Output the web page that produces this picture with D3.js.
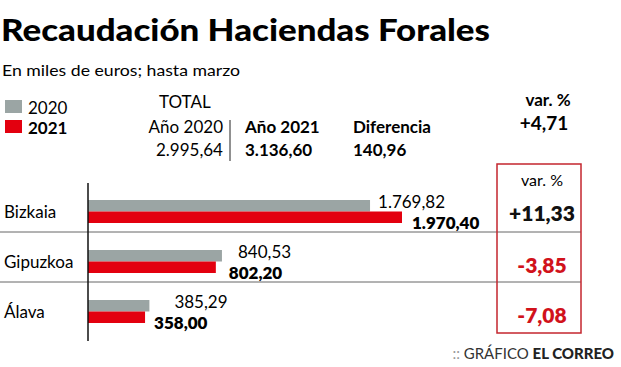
<!DOCTYPE html>
<html>
<head>
<meta charset="utf-8">
<script src="https://cdn.jsdelivr.net/npm/d3@7"></script>
<style>
  body { margin: 0; background: #fff; }
  svg text { font-family: "Lato", "Open Sans", sans-serif; }
</style>
</head>
<body>
<div id="chart"></div>
<script>
// datos (miles de euros, hasta marzo)
const regions = ["Bizkaia", "Gipuzkoa", "Álava"];
const values2020 = [1769.82, 840.53, 385.29];
const values2021 = [1970.40, 802.20, 358.00];
const variation = [11.33, -3.85, -7.08];
const totals = {y2020: 2995.64, y2021: 3136.60, diff: 140.96, varPct: 4.71};

const width = 621, height = 367;
const gray = "#9ba5a4", red = "#e3000f", darkRed = "#d1121b";

const fmt = d3.formatLocale({decimal: ",", thousands: ".", grouping: [3], currency: ["", ""], minus: "-"});
const num = fmt.format(",.2f");
const pct = v => (v > 0 ? "+" : "") + fmt.format(".2f")(v);

const svg = d3.select("#chart").append("svg")
    .attr("width", width)
    .attr("height", height);

// titulo
svg.append("text")
    .attr("x", 1).attr("y", 41)
    .attr("font-size", 31).attr("font-weight", 900)
    .attr("textLength", 489).attr("lengthAdjust", "spacingAndGlyphs")
    .text("Recaudación Haciendas Forales");
svg.append("text")
    .attr("x", 2).attr("y", 76)
    .attr("font-size", 16)
    .attr("textLength", 238).attr("lengthAdjust", "spacingAndGlyphs")
    .text("En miles de euros; hasta marzo");

// leyenda
const legend = svg.append("g");
[["2020", gray, 400], ["2021", red, 700]].forEach((d, i) => {
    legend.append("rect")
        .attr("x", 5).attr("y", 100 + i * 20)
        .attr("width", 17).attr("height", 13)
        .attr("fill", d[1]);
    legend.append("text")
        .attr("x", 28).attr("y", 114 + i * 20)
        .attr("font-size", 17).attr("font-weight", d[2])
        .text(d[0]);
});

// bloque total
const tot = svg.append("g").attr("font-size", 17);
tot.append("text").attr("x", 159).attr("y", 108).text("TOTAL");
tot.append("text").attr("x", 223).attr("y", 133).attr("text-anchor", "end").text("Año 2020");
tot.append("text").attr("x", 223).attr("y", 156).attr("text-anchor", "end").text(num(totals.y2020));
tot.append("line")
    .attr("x1", 230).attr("x2", 230).attr("y1", 120).attr("y2", 161)
    .attr("stroke", "#222").attr("stroke-width", 1);
tot.append("text").attr("x", 245).attr("y", 133).attr("font-weight", 700).text("Año 2021");
tot.append("text").attr("x", 245).attr("y", 156).attr("font-weight", 700).text(num(totals.y2021));
tot.append("text").attr("x", 353).attr("y", 133).attr("font-weight", 700).text("Diferencia");
tot.append("text").attr("x", 353).attr("y", 156).attr("font-weight", 700).text(num(totals.diff));
tot.append("text").attr("x", 548).attr("y", 106).attr("text-anchor", "middle").attr("font-weight", 700).text("var. %");
tot.append("text").attr("x", 544).attr("y", 130).attr("text-anchor", "middle").attr("font-weight", 700)
    .attr("font-size", 19).text(pct(totals.varPct));

// barras
const x0 = 88;
const x = d3.scaleLinear()
    .domain([0, 1970.40])
    .range([x0, 402]);
const y = d3.scaleBand()
    .domain(regions)
    .range([184, 334]);
const barH = 11.5;

const rows = svg.append("g").selectAll("g")
    .data(regions)
    .join("g")
    .attr("transform", d => `translate(0,${y(d)})`);

// separadores
svg.append("g").selectAll("line")
    .data(regions.slice(1))
    .join("line")
    .attr("x1", 0).attr("x2", 581)
    .attr("y1", d => y(d) - 2).attr("y2", d => y(d) - 2)
    .attr("stroke", "#666").attr("stroke-width", 1);

rows.append("text")
    .attr("x", 4).attr("y", 34)
    .attr("font-size", 17)
    .text(d => d);

rows.append("rect")
    .attr("x", x0).attr("y", 16)
    .attr("width", (d, i) => x(values2020[i]) - x0)
    .attr("height", barH)
    .attr("fill", gray);
rows.append("rect")
    .attr("x", x0).attr("y", 16 + barH)
    .attr("width", (d, i) => x(values2021[i]) - x0)
    .attr("height", barH)
    .attr("fill", red);

// etiquetas
const labOff = [[8, 10], [16, 13], [25, 9]];
rows.append("text")
    .attr("x", (d, i) => x(values2020[i]) + labOff[i][0])
    .attr("y", 24)
    .attr("font-size", 17)
    .text((d, i) => num(values2020[i]));
rows.append("text")
    .attr("x", (d, i) => x(values2021[i]) + labOff[i][1])
    .attr("y", 45)
    .attr("font-size", 17).attr("font-weight", 800)
    .text((d, i) => num(values2021[i]));

// eje
svg.append("line")
    .attr("x1", x0).attr("x2", x0)
    .attr("y1", 183).attr("y2", 341)
    .attr("stroke", "#111").attr("stroke-width", 1.5);

// caja variacion
svg.append("rect")
    .attr("x", 497).attr("y", 164)
    .attr("width", 84).attr("height", 169)
    .attr("fill", "none")
    .attr("stroke", "#c4262e").attr("stroke-width", 1.5);
svg.append("text")
    .attr("x", 542).attr("y", 186)
    .attr("text-anchor", "middle").attr("font-size", 16)
    .text("var. %");
rows.append("text")
    .attr("x", 542)
    .attr("y", (d, i) => i === 0 ? 37 : 39)
    .attr("text-anchor", "middle")
    .attr("font-size", 21).attr("font-weight", 800)
    .attr("fill", (d, i) => variation[i] < 0 ? darkRed : "#111")
    .text((d, i) => pct(variation[i]));

// firma
const foot = svg.append("text")
    .attr("x", 614).attr("y", 359)
    .attr("text-anchor", "end")
    .attr("font-size", 15);
foot.append("tspan").attr("fill", "#999").text(":: ");
foot.append("tspan").attr("fill", "#333").text("GRÁFICO ");
foot.append("tspan").attr("font-weight", 900).attr("fill", "#222").text("EL CORREO");
</script>
</body>
</html>
